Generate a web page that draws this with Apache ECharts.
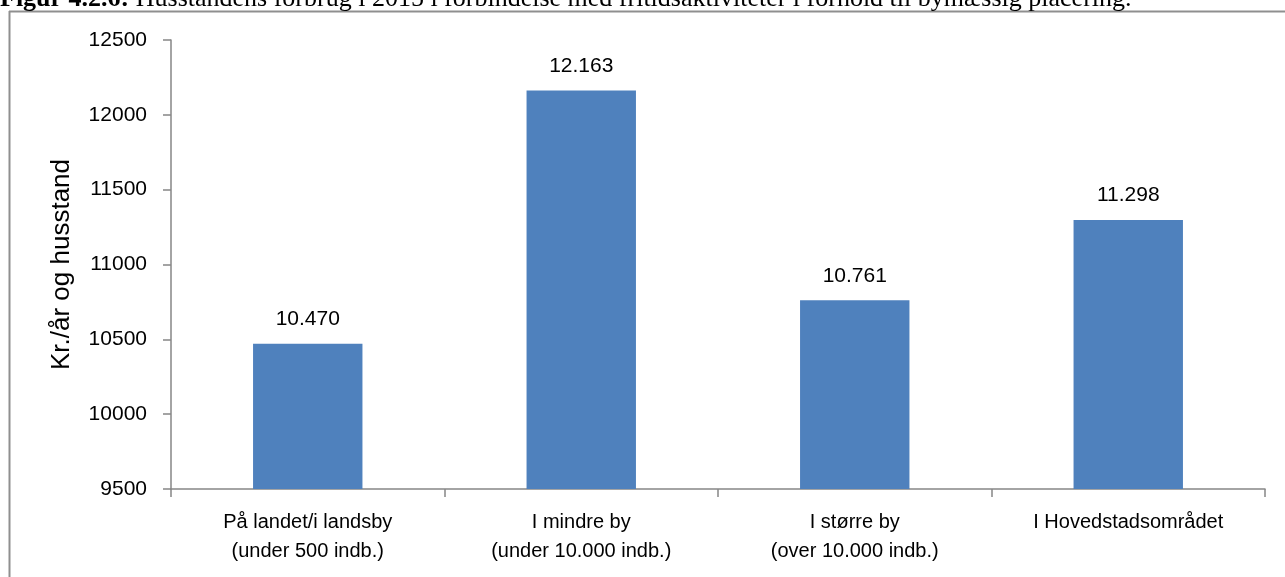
<!DOCTYPE html>
<html>
<head>
<meta charset="utf-8">
<script src="https://cdn.jsdelivr.net/npm/echarts@6/dist/echarts.min.js"></script>
<style>
html,body{margin:0;padding:0;background:#fff;}
#chart{width:1285px;height:577px;}
</style>
</head>
<body>
<div id="chart"></div>
<script>
const categories = [
  "På landet/i landsby\n(under 500 indb.)",
  "I mindre by\n(under 10.000 indb.)",
  "I større by\n(over 10.000 indb.)",
  "I Hovedstadsområdet"
];
const values = [10470, 12163, 10761, 11298];
const valueLabels = ["10.470", "12.163", "10.761", "11.298"];
const yTicks = [9500, 10000, 10500, 11000, 11500, 12000, 12500];
const yTitle = "Kr./år og husstand";
const titleBold = "Figur 4.2.6:";
const titleRest = " Husstandens forbrug i 2015 i forbindelse med fritidsaktiviteter i forhold til bymæssig placering.";

const chart = echarts.init(document.getElementById('chart'));
const sans = "'Liberation Sans',Arial,sans-serif";
const serif = "'Liberation Serif','Times New Roman',serif";
chart.setOption({
  animation: false,
  backgroundColor: '#fff',
  grid: {left: 171, top: 40, right: 20, bottom: 88, containLabel: false},
  graphic: [
    {type: 'line', shape: {x1: 9.5, y1: 11, x2: 9.5, y2: 577}, style: {stroke: '#8f8f8f', lineWidth: 2}},
    {type: 'line', shape: {x1: 9, y1: 11.5, x2: 1285, y2: 11.5}, style: {stroke: '#8f8f8f', lineWidth: 2}},
    {type: 'text', x: 0, y: 12, z: 10, style: {
      text: '{b|' + titleBold + '}{r|' + titleRest + '}',
      verticalAlign: 'bottom', align: 'left',
      fill: '#000',
      rich: {
        b: {fontWeight: 'bold', fontFamily: serif, fontSize: 26, lineHeight: 26},
        r: {fontFamily: serif, fontSize: 26, lineHeight: 26}
      }
    }}
  ],
  xAxis: {
    type: 'category',
    data: categories,
    axisLine: {lineStyle: {color: '#868686', width: 1.5}},
    axisTick: {show: true, length: 8, lineStyle: {color: '#868686', width: 1.5}},
    axisLabel: {color: '#000', fontSize: 20, fontFamily: sans, lineHeight: 29, margin: 19, interval: 0}
  },
  yAxis: {
    type: 'value',
    min: 9500, max: 12500, interval: 500,
    name: yTitle,
    nameLocation: 'middle',
    nameGap: 96,
    nameRotate: 90,
    nameTextStyle: {color: '#000', fontSize: 26, fontFamily: sans},
    splitLine: {show: false},
    axisLine: {show: true, lineStyle: {color: '#868686', width: 1.5}},
    axisTick: {show: true, length: 8, lineStyle: {color: '#868686', width: 1.5}},
    axisLabel: {color: '#000', fontSize: 21, fontFamily: sans, margin: 24,
      formatter: v => yTicks.indexOf(v) >= 0 ? String(v) : ''}
  },
  series: [{
    type: 'bar',
    data: values,
    barCategoryGap: '60%',
    itemStyle: {color: '#4F81BD'},
    label: {show: true, position: 'top', distance: 14, color: '#000', fontSize: 21,
      fontFamily: sans,
      formatter: p => valueLabels[p.dataIndex]}
  }]
});
</script>
</body>
</html>
